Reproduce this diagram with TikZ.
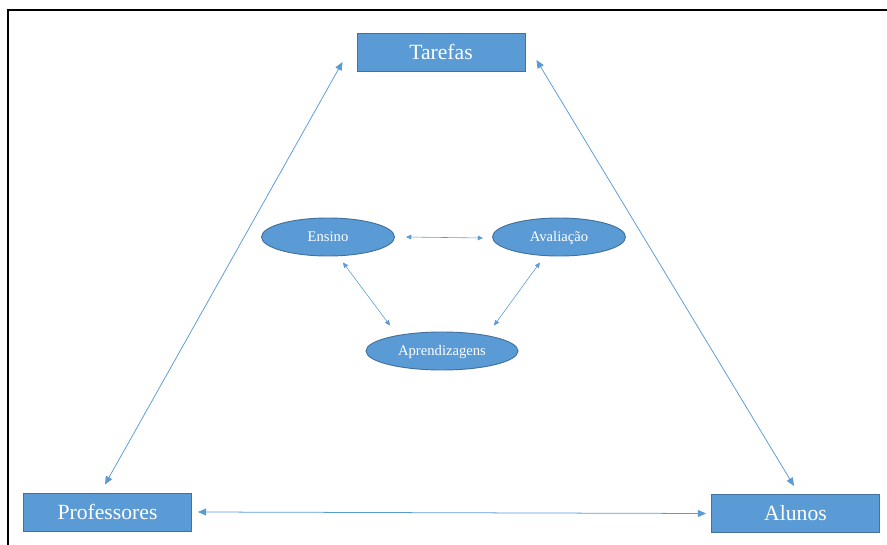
\documentclass[tikz,border=0pt]{standalone}
\usepackage{fontspec}
\setmainfont{Liberation Serif}
\usetikzlibrary{arrows.meta, shapes.geometric}
\definecolor{officeblue}{RGB}{91,155,213}
\definecolor{officeedge}{RGB}{65,113,156}

\begin{document}
\begin{tikzpicture}[x=0.03cm, y=-0.03cm,
  box/.style={draw=officeedge, fill=officeblue, line width=0.8pt, text=white,
    minimum width=168*0.03cm, minimum height=38*0.03cm, inner sep=0pt,
    font=\fontsize{18.5}{20}\selectfont},
  oval/.style={ellipse, draw=officeedge, fill=officeblue, line width=0.8pt, text=white,
    minimum width=133*0.03cm, minimum height=38*0.03cm, inner sep=0pt,
    text depth=1pt, font=\fontsize{12.5}{14}\selectfont},
  link/.style={draw=officeblue, line width=0.65pt, {Triangle[length=7pt,width=6pt]}-{Triangle[length=7pt,width=6pt]}},
  thin link/.style={draw=officeblue, line width=0.5pt, {Triangle[length=4.5pt,width=4pt]}-{Triangle[length=4.5pt,width=4pt]}}]
\useasboundingbox (0,0) rectangle (887,545);
\draw[line width=1.3pt] (8,545) -- (8,10) -- (887,10);

\node[box] (T) at (441,52) {Tarefas};
\node[box] (P) at (107.5,512) {Professores};
\node[box] (A) at (795.5,513.5) {Alunos};

\node[oval] (E) at (328,237) {Ensino};
\node[oval] (V) at (559,237) {Avaliação};
\node[oval, minimum width=152*0.03cm] (L) at (442,351) {Aprendizagens};

\path[]
([shift={(-14,10)}]T.west) edge[link] ([shift={(-2.5,-8)}]P.north)
([shift={(11,8)}]T.east) edge[link] ([shift={(-1.5,-8)}]A.north)
([shift={(6,0)}]P.east) edge[link] ([shift={(-5,0)}]A.west)
([shift={(11,0)}]E.east) edge[thin link] ([shift={(-9,1)}]V.west)
([shift={(15,6)}]E.south) edge[thin link] ([shift={(-52,-6)}]L.north)
([shift={(-19,6)}]V.south) edge[thin link] ([shift={(52,-6)}]L.north)
;
\end{tikzpicture}
\end{document}
